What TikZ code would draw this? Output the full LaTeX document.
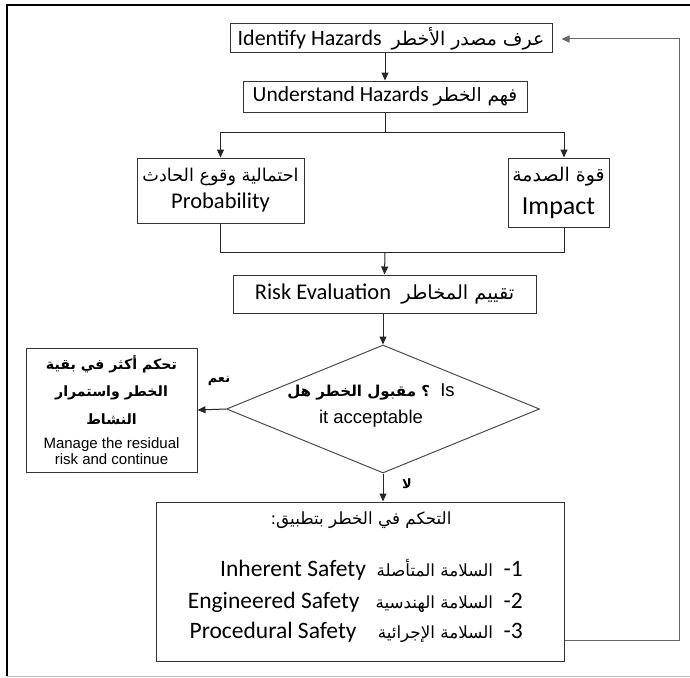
\documentclass[tikz,border=0pt]{standalone}
\usepackage{fontspec}
\setmainfont{Carlito}
\newfontfamily\arfont[Script=Arabic,Scale=0.86]{DejaVu Sans}
\newfontfamily\arialfont{Liberation Sans}
\TeXXeTstate=1
\usetikzlibrary{arrows.meta,shapes.geometric}
\newcommand{\AR}[1]{{\arfont\beginR #1\endR}}
\newcommand{\fsz}[2]{\fontsize{#1}{#2}\selectfont}
\begin{document}
\begin{tikzpicture}[x=1pt,y=-1pt,
  box/.style={draw=black!80, line width=1pt, rectangle, inner sep=0pt, align=center},
  conn/.style={draw=black!85, line width=1pt},
  arr/.style={conn, -{Triangle[length=8pt,width=7pt]}},
  lbl/.style={inner sep=0pt, align=center}]
\path[use as bounding box] (0,0) rectangle (690,677);
% frame
\draw[line width=2pt, black] (7,676) -- (7,5) -- (692,5);
\draw[line width=1pt, black!25] (7,676) -- (692,676);
% boxes
\node[box, minimum width=322pt, minimum height=29pt, font=\fsz{22}{27}] (id) at (391,38.5)
  {Identify Hazards\ \ \AR{عرف مصدر الأخطر}};
\node[box, minimum width=284pt, minimum height=31pt, font=\fsz{21.5}{27}] (und) at (385,96.5)
  {Understand Hazards \AR{فهم الخطر}};
\node[box, minimum width=167pt, minimum height=65pt, font=\fsz{22.5}{27}] (prob) at (220.5,190.5)
  {{\fsz{20.5}{27}\AR{احتمالية وقوع الحادث}}\\Probability};
\node[box, minimum width=101pt, minimum height=69pt, font=\fsz{22}{33}] (imp) at (558.5,192.5)
  {\AR{قوة الصدمة}\\{\fsz{26}{33}Impact}};
\node[box, minimum width=303pt, minimum height=38pt, font=\fsz{22.5}{27}] (risk) at (384.5,294)
  {Risk Evaluation\ \ \AR{تقييم المخاطر}};
\node[diamond, draw=black!70, line width=1pt, minimum width=313pt, minimum height=128pt, inner sep=0pt] (dia) at (383,409) {};
\node[lbl, font=\arialfont\fsz{18.5}{27}] (diat) at (371,406)
  {{\bfseries\fsz{17.5}{27}\AR{؟ مقبول الخطر هل}}\ \ Is\\it acceptable};
\node[box, minimum width=171pt, minimum height=124pt] (left) at (111.5,410) {};
\node[lbl, font=\arialfont\bfseries\fsz{16.5}{27.5}] (leftar) at (111.5,390)
  {\AR{تحكم أكثر في بقية}\\\AR{الخطر واستمرار}\\\AR{النشاط}};
\node[lbl, font=\arialfont\fsz{15}{16}] (leften) at (111.5,451)
  {Manage the residual\\risk and continue};
\node[lbl, font=\arialfont\bfseries\fsz{15}{18}] (yes) at (219,381) {\AR{نعم}};
\node[lbl, font=\arialfont\bfseries\fsz{15}{18}] (no) at (407,484) {\AR{لا}};
\node[box, minimum width=408pt, minimum height=159pt] (bot) at (360,581.5) {};
\node[lbl, font=\fsz{19.5}{25}] (hd) at (361,520) {\AR{التحكم في الخطر بتطبيق:}};
\node[lbl, anchor=east, font=\fsz{23.5}{27}] (l1) at (523,570) {Inherent Safety\ \ {\fsz{19.5}{27}\AR{السلامة المتأصلة}}\ \ -1};
\node[lbl, anchor=east, font=\fsz{23.5}{27}] (l2) at (523,602) {Engineered Safety\ \ \ {\fsz{19.5}{27}\AR{السلامة الهندسية}}\ \ -2};
\node[lbl, anchor=east, font=\fsz{23.5}{27}] (l3) at (523,632) {Procedural Safety\ \ \ \ {\fsz{19.5}{27}\AR{السلامة الإجرائية}}\ \ -3};
% connectors
\coordinate (split) at (385,132);
\coordinate (merge) at (385,252);
\coordinate (impx) at (564,0);
\coordinate (fbb) at (679,640);
\coordinate (fbt) at (679,39);
\draw[arr] (und.north |- id.south) -- (und.north);
\draw[conn] (und.south) -- (split);
\draw[arr] (split) -| (prob.north);
\draw[arr] (split) -| (impx |- imp.north);
\draw[conn] (prob.south) |- (merge);
\draw[conn] (impx |- imp.south) |- (merge);
\draw[arr] (merge) -- (risk.north);
\draw[arr] (dia.north |- risk.south) -- (dia.north);
\draw[arr] (dia.west) -- (left.east);
\draw[arr] (dia.south) -- (dia.south |- bot.north);
\draw[arr, draw=black!60, shorten >=9pt] (bot.east |- fbb) -- (fbb) -- (fbt) -- (id.east |- fbt);
\end{tikzpicture}
\end{document}
